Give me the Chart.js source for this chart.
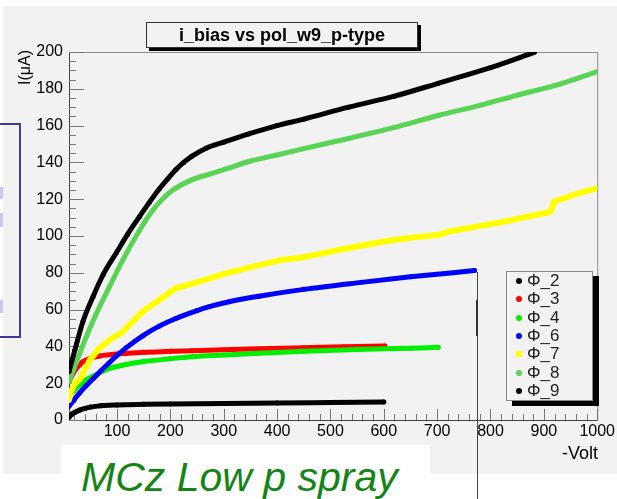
<!DOCTYPE html>
<html>
<head>
<meta charset="utf-8">
<script src="https://cdn.jsdelivr.net/npm/chart.js@4.4.1/dist/chart.umd.min.js"></script>
<style>
  body { margin: 0; width: 617px; height: 499px; overflow: hidden; background: #fff; position: relative; font-family: "Liberation Sans", Arial, sans-serif; }
  .pad { position: absolute; left: 3px; top: 6px; width: 614px; height: 468px; background: #f2f2f2; }
  #wrap { position: absolute; left: 0; top: 0; width: 617px; height: 499px; }
  .title { position: absolute; left: 146px; top: 22px; width: 270px; height: 24px; border: 1px solid #333; background: #f2f2f2; box-shadow: 3px 3px 0 #000; font-weight: bold; font-size: 18px; line-height: 24px; text-align: center; color: #000; }
  .ylab { position: absolute; left: 7px; top: 58px; width: 36px; font-size: 16px; transform: rotate(-90deg); transform-origin: center; color: #000; }
  .xlab { position: absolute; left: 562px; top: 443px; font-size: 18px; color: #000; }
  .legend { position: absolute; left: 506px; top: 271px; width: 85px; height: 128px; border: 1px solid #888; background: #f2f2f2; box-shadow: 6px 5px 0 #000; }
  .legend .row { position: absolute; left: 0; height: 18px; font-size: 17px; line-height: 18px; color: #222; }
  .legend .mk { position: absolute; left: 9px; top: 6px; width: 6px; height: 6px; border-radius: 50%; }
  .legend .tx { position: absolute; left: 20px; top: 0; white-space: nowrap; }
  .boxl { position: absolute; left: -2px; top: 123px; width: 19px; height: 211px; border: 2px solid #3c3c96; }
  .chip { position: absolute; left: 0; width: 3px; background: #c8c8ee; }
  .note { position: absolute; left: 61px; top: 445px; width: 369px; height: 54px; background: #fff; }
  .note span { position: absolute; left: 20px; top: 12px; font-family: "Liberation Sans", Arial, sans-serif; font-style: italic; font-size: 41px; line-height: 41px; color: #148414; white-space: nowrap; }
  .vline { position: absolute; left: 477px; top: 272px; width: 1px; height: 227px; background: #444; }
  .vline2 { position: absolute; left: 476px; top: 300px; width: 2px; height: 36px; background: #333; }
</style>
</head>
<body>
<div class="pad"></div>
<div class="boxl"></div>
<div class="chip" style="top:187px;height:12px"></div>
<div class="chip" style="top:213px;height:14px"></div>
<div class="chip" style="top:300px;height:13px"></div>
<div class="note"><span>MCz Low p spray</span></div>
<div class="vline"></div>
<div class="vline2"></div>
<div id="wrap"><canvas id="chart" width="617" height="499"></canvas></div>
<div class="title">i_bias vs pol_w9_p-type</div>
<div class="ylab">I(μA)</div>
<div class="xlab">-Volt</div>
<div class="legend" id="legend"></div>
<script>
// Ejes
const xTicks = [100, 200, 300, 400, 500, 600, 700, 800, 900, 1000];
const yTicks = [0, 20, 40, 60, 80, 100, 120, 140, 160, 180, 200];

// Series (tension en -Volt, corriente en uA)
const seriesNames = ['Φ_2', 'Φ_3', 'Φ_4', 'Φ_6', 'Φ_7', 'Φ_8', 'Φ_9'];
const seriesColors = ['#000000', '#ff0000', '#00ee00', '#0000ff', '#ffff00', '#59d454', '#000000'];
const seriesMarkers = ['circle', 'circle', 'circle', 'circle', 'rect', 'circle', 'circle'];

const phi2V = [10, 15, 20, 30, 40, 50, 70, 100, 150, 200, 300, 400, 500, 600];
const phi2I = [1.5, 3, 4, 5.4, 6.3, 7, 7.8, 8.2, 8.5, 8.7, 9, 9.2, 9.5, 9.8];

const phi3V = [10, 15, 21, 30, 36, 50, 67, 90, 117, 150, 200, 241, 300, 366, 450, 525, 602];
const phi3I = [20.8, 24, 27, 30, 31.7, 33.5, 34.8, 35.6, 36.2, 36.8, 37.3, 37.7, 38.2, 38.7, 39.3, 39.8, 40.2];

const phi4V = [15, 20, 30, 42, 60, 86, 117, 148, 200, 241, 300, 366, 450, 550, 650, 702];
const phi4I = [14.5, 16.5, 19, 21.7, 24.5, 28, 30.2, 31.7, 33.3, 34.4, 35.3, 36.3, 37.3, 38.3, 39, 39.5];

const phi6V = [10, 20, 30, 42, 55, 70, 85, 98, 117, 148, 179, 210, 250, 273, 310, 366, 450, 558, 650, 770];
const phi6I = [7.5, 11.2, 14.8, 18.6, 22.4, 26.8, 31, 34.6, 39.2, 45.7, 51, 55.2, 59.5, 61.6, 64.3, 67.3, 71, 74.8, 77.8, 81.2];

const phi7V = [10, 14, 21, 30, 39, 49, 67, 86, 111, 148, 179, 210, 254, 304, 366, 409, 450, 534, 600, 650, 702, 720, 826, 913, 919, 963, 1000];
const phi7I = [10.9, 15.4, 20, 22, 27, 32.6, 39, 43.5, 48, 58.9, 65.2, 71.6, 75.2, 79.7, 84.2, 87, 88.5, 93.5, 97, 99, 100.5, 102.3, 107.8, 113.2, 118.6, 123, 126];

const phi8V = [10, 24, 42, 60, 86, 111, 142, 167, 190, 210, 240, 272, 310, 347, 400, 450, 534, 620, 702, 780, 851, 930, 1000];
const phi8I = [21, 31.5, 45, 57, 72.5, 87, 103, 114, 121.5, 126, 130.5, 133.5, 137, 140.5, 144, 147.5, 153, 159, 165.5, 171, 176.6, 182.5, 189.3];

const phi9V = [10, 21, 36, 55, 74, 99, 120, 142, 160, 179, 195, 210, 225, 240, 266, 300, 347, 400, 450, 534, 620, 702, 800, 882];
const phi9I = [26.3, 38, 53.4, 67, 79, 91, 101, 110.5, 118, 125.5, 131, 136, 140, 143.3, 147.6, 151, 155.5, 160, 163.5, 170, 176, 183, 191.5, 199.8];

const seriesV = [phi2V, phi3V, phi4V, phi6V, phi7V, phi8V, phi9V];
const seriesI = [phi2I, phi3I, phi4I, phi6I, phi7I, phi8I, phi9I];

const font = { family: '"Liberation Sans", Arial, sans-serif', size: 16 };

// Marcas hacia dentro al estilo ROOT + marco
const rootAxes = {
  id: 'rootAxes',
  beforeDatasetsDraw(chart) {
    const { ctx, chartArea: a, scales: { x, y } } = chart;
    ctx.save();
    ctx.strokeStyle = '#8c8c8c';
    ctx.lineWidth = 1;
    ctx.strokeRect(a.left + 0.5, a.top + 0.5, a.width, a.height);
    ctx.strokeStyle = '#444';
    ctx.beginPath();
    ctx.moveTo(a.left + 0.5, a.top); ctx.lineTo(a.left + 0.5, a.bottom + 0.5);
    ctx.lineTo(a.right, a.bottom + 0.5);
    ctx.stroke();
    ctx.strokeStyle = '#777';
    ctx.beginPath();
    for (let v = 0; v <= 200; v += 5) {
      const py = Math.round(y.getPixelForValue(v)) + 0.5;
      const len = v % 20 === 0 ? 15 : 7;
      ctx.moveTo(a.left, py); ctx.lineTo(a.left + len, py);
    }
    for (let v = 20; v <= 1000; v += 20) {
      const px = Math.round(x.getPixelForValue(v)) + 0.5;
      const len = v % 100 === 0 ? 11 : 6;
      ctx.moveTo(px, a.bottom); ctx.lineTo(px, a.bottom - len);
    }
    ctx.stroke();
    ctx.restore();
  }
};

new Chart(document.getElementById('chart'), {
  type: 'line',
  data: {
    datasets: seriesNames.map((name, k) => ({
      label: name,
      data: seriesV[k].map((v, i) => ({ x: v, y: seriesI[k][i] })),
      borderColor: seriesColors[k],
      backgroundColor: seriesColors[k],
      borderWidth: k === 4 ? 6 : 5,
      borderCapStyle: 'round',
      borderJoinStyle: 'round',
      pointStyle: seriesMarkers[k],
      pointRadius: 2.5,
      pointBorderWidth: 0,
      cubicInterpolationMode: k === 4 ? 'default' : 'monotone',
      tension: k === 4 ? 0 : 0.4,
      order: seriesNames.length - k
    }))
  },
  options: {
    responsive: false,
    animation: false,
    devicePixelRatio: 1,
    layout: { padding: { left: 0, top: 52, right: 17, bottom: 39 } },
    plugins: { legend: { display: false }, title: { display: false }, tooltip: { enabled: false } },
    scales: {
      x: {
        type: 'linear', min: 10, max: 1000,
        afterBuildTicks: s => { s.ticks = xTicks.map(v => ({ value: v })); },
        afterFit: s => { s.height = 40; },
        grid: { display: false, drawTicks: false },
        border: { display: false },
        ticks: { font, color: '#000', padding: 2, maxRotation: 0, autoSkip: false, callback: v => String(v) }
      },
      y: {
        type: 'linear', min: 0, max: 200,
        afterBuildTicks: s => { s.ticks = yTicks.map(v => ({ value: v })); },
        afterFit: s => { s.width = 69; },
        grid: { display: false, drawTicks: false },
        border: { display: false },
        ticks: { font, color: '#000', padding: 6, autoSkip: false, callback: v => String(v) }
      }
    }
  },
  plugins: [rootAxes]
});

// Leyenda tipo ROOT
const legend = document.getElementById('legend');
seriesNames.forEach((name, k) => {
  const row = document.createElement('div');
  row.className = 'row';
  row.style.top = (0 + k * 18.3) + 'px';
  const mk = document.createElement('div');
  mk.className = 'mk';
  mk.style.background = seriesColors[k];
  if (seriesMarkers[k] === 'rect') mk.style.borderRadius = '0';
  const tx = document.createElement('div');
  tx.className = 'tx';
  tx.textContent = name;
  row.appendChild(mk);
  row.appendChild(tx);
  legend.appendChild(row);
});
</script>
</body>
</html>
